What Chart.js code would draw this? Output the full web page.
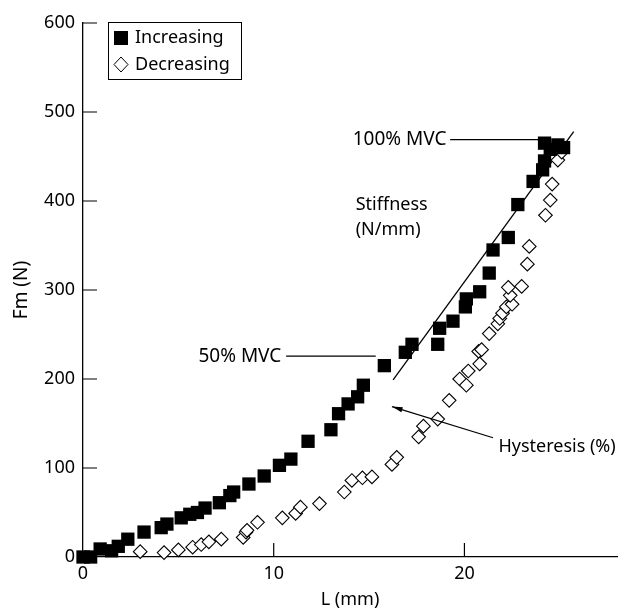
<!DOCTYPE html>
<html>
<head>
<meta charset="utf-8">
<script src="https://cdn.jsdelivr.net/npm/chart.js@4/dist/chart.umd.min.js"></script>
<style>
  html, body { margin: 0; padding: 0; background: #fff; }
  #wrap { width: 620px; height: 611px; }
</style>
</head>
<body>
<div id="wrap"><canvas id="chart" width="620" height="611"></canvas></div>
<script>
// increasing load (filled squares)
const incL = [0, 0.4, 0.9, 1.5, 1.85, 2.35, 3.2, 4.1, 4.4, 5.15, 5.6, 6.0, 6.4, 7.15, 7.7, 7.9, 8.7, 9.5,
  10.3, 10.9, 11.8, 13.0, 13.4, 13.9, 14.4, 14.7, 15.8, 16.9, 17.25, 18.6, 18.7, 19.4, 20.05, 20.1,
  20.8, 21.3, 21.5, 22.3, 22.8, 23.6, 24.1, 24.2, 24.2, 24.5, 24.9, 25.2];
const incF = [0, 0, 9, 7, 12, 20, 28, 33, 37, 44, 48, 50, 55, 61, 69, 73, 82, 91,
  103, 110, 130, 143, 161, 172, 180, 193, 215, 230, 239, 239, 257, 265, 281, 290,
  298, 319, 345, 359, 396, 422, 435, 445, 465, 458, 463, 460];

// decreasing load (open diamonds)
const decL = [3.0, 4.25, 5.0, 5.75, 6.2, 6.6, 7.25, 8.4, 8.55, 8.6, 9.15, 10.45, 11.15, 11.4, 12.4,
  13.7, 14.1, 14.65, 15.15, 16.2, 16.45, 17.6, 17.85, 18.6, 19.2, 19.75, 20.1, 20.2, 20.75, 20.9,
  20.8, 21.3, 21.75, 21.85, 22.0, 22.2, 22.5, 22.4, 22.3, 23.0, 23.3, 23.4, 24.25, 24.5, 24.6, 24.9, 25.1];
const decF = [6, 5, 8, 11, 14, 17, 20, 22, 28, 30, 39, 44, 49, 56, 60,
  73, 86, 89, 90, 104, 112, 135, 147, 155, 176, 200, 193, 209, 231, 233,
  217, 251, 262, 268, 274, 281, 284, 294, 303, 304, 329, 349, 384, 401, 419, 446, 455];

// stiffness line end points
const stiffL = [16.26, 25.73];
const stiffF = [199, 478];

const xTicks = [0, 10, 20];
const yTicks = [0, 100, 200, 300, 400, 500, 600];

const FONT = '"Noto Sans", "DejaVu Sans", sans-serif';

const toXY = (xs, ys) => xs.map((v, i) => ({ x: v, y: ys[i] }));

const overlay = {
  id: 'overlay',
  afterDraw(chart) {
    const ctx = chart.ctx;
    const xs = chart.scales.x, ys = chart.scales.y;
    const X = v => xs.getPixelForValue(v), Y = v => ys.getPixelForValue(v);
    ctx.save();
    ctx.strokeStyle = '#000';
    ctx.fillStyle = '#000';
    ctx.lineWidth = 1.2;

    // inward ticks
    ctx.beginPath();
    yTicks.forEach(t => { ctx.moveTo(xs.left, Y(t)); ctx.lineTo(xs.left + 14, Y(t)); });
    xTicks.slice(1).forEach(t => { ctx.moveTo(X(t), ys.bottom); ctx.lineTo(X(t), ys.bottom - 14); });
    ctx.stroke();

    ctx.textBaseline = 'middle';

    // 100% MVC / 50% MVC
    ctx.font = '19px ' + FONT;
    ctx.beginPath();
    ctx.moveTo(X(19.25), Y(469)); ctx.lineTo(X(24.0), Y(469));
    ctx.moveTo(X(10.65), Y(225.6)); ctx.lineTo(X(15.35), Y(225.6));
    ctx.stroke();
    ctx.textAlign = 'right';
    ctx.fillText('100% MVC', X(19.06), Y(469));
    ctx.fillText('50% MVC', X(10.4), Y(225.6));

    // Stiffness label
    ctx.font = '18px ' + FONT;
    ctx.textAlign = 'left';
    ctx.fillText('Stiffness', X(14.3), Y(396));
    ctx.fillText('(N/mm)', X(14.3), Y(367));

    // Hysteresis label and arrow
    ctx.fillText('Hysteresis (%)', X(21.78), Y(123.4));
    const ax0 = X(21.5), ay0 = Y(134), ax1 = X(16.2), ay1 = Y(169);
    ctx.beginPath();
    ctx.moveTo(ax0, ay0); ctx.lineTo(ax1, ay1);
    ctx.stroke();
    const ang = Math.atan2(ay1 - ay0, ax1 - ax0);
    ctx.beginPath();
    ctx.moveTo(ax1, ay1);
    ctx.lineTo(ax1 - 11 * Math.cos(ang - 0.25), ay1 - 11 * Math.sin(ang - 0.25));
    ctx.lineTo(ax1 - 11 * Math.cos(ang + 0.25), ay1 - 11 * Math.sin(ang + 0.25));
    ctx.closePath();
    ctx.fill();

    // legend box
    const lx = 108, ly = 22, lw = 133, lh = 57;
    ctx.lineWidth = 1;
    ctx.strokeRect(lx + 0.5, ly + 0.5, lw, lh);
    ctx.fillRect(114, 31, 14, 14);
    ctx.beginPath();
    ctx.moveTo(121, 57); ctx.lineTo(128, 64.5); ctx.lineTo(121, 72); ctx.lineTo(114, 64.5); ctx.closePath();
    ctx.stroke();
    ctx.font = '18px ' + FONT;
    ctx.fillText('Increasing', 135, 38);
    ctx.fillText('Decreasing', 135, 64.5);
    ctx.restore();
  }
};

new Chart(document.getElementById('chart'), {
  type: 'scatter',
  data: {
    datasets: [
      {
        label: 'Increasing',
        data: toXY(incL, incF),
        pointStyle: 'rect',
        pointRadius: 9.4,
        backgroundColor: '#000',
        borderColor: '#000',
        borderWidth: 0
      },
      {
        label: 'Decreasing',
        data: toXY(decL, decF),
        pointStyle: 'rectRot',
        pointRadius: 6.8,
        backgroundColor: '#fff',
        borderColor: '#000',
        borderWidth: 1.1
      },
      {
        label: 'Stiffness',
        type: 'line',
        data: toXY(stiffL, stiffF),
        borderColor: '#000',
        borderWidth: 1.3,
        pointRadius: 0
      }
    ]
  },
  options: {
    responsive: false,
    animation: false,
    clip: false,
    layout: { autoPadding: false, padding: { top: 23, right: 3, left: 0, bottom: 0 } },
    plugins: { legend: { display: false }, tooltip: { enabled: false } },
    scales: {
      x: {
        type: 'linear', min: 0, max: 28,
        afterBuildTicks: s => { s.ticks = xTicks.map(v => ({ value: v })); },
        afterFit: s => { s.height = 54; s.paddingLeft = 0; s.paddingRight = 0; },
        grid: { display: false, drawTicks: false },
        border: { display: true, color: '#000', width: 1.3 },
        ticks: { color: '#000', padding: 6, font: { family: FONT, size: 18 } },
        title: { display: true, text: 'L (mm)', color: '#000', padding: { top: 1, bottom: 0 }, font: { family: FONT, size: 18 } }
      },
      y: {
        type: 'linear', min: 0, max: 600,
        afterBuildTicks: s => { s.ticks = yTicks.map(v => ({ value: v })); },
        afterFit: s => { s.width = 83; s.paddingTop = 0; s.paddingBottom = 0; },
        grid: { display: false, drawTicks: false },
        border: { display: true, color: '#000', width: 1.3 },
        ticks: { color: '#000', padding: 8, font: { family: FONT, size: 18 } },
        title: { display: true, text: 'Fm (N)', color: '#000', padding: { top: 10, bottom: 0 }, font: { family: FONT, size: 19 } }
      }
    }
  },
  plugins: [overlay]
});
</script>
</body>
</html>
